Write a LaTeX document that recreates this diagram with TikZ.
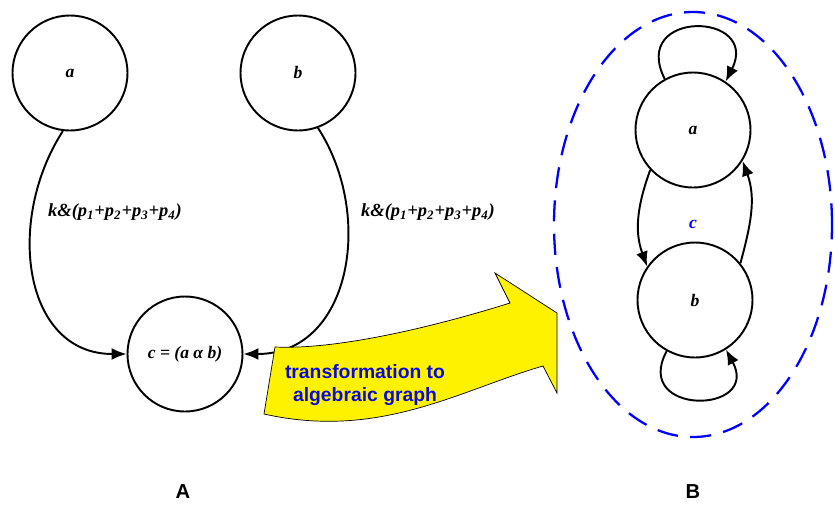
\documentclass[tikz,border=0pt]{standalone}
\usepackage{fontspec}
\setmainfont{Liberation Serif}
\setsansfont{Liberation Sans}
\usetikzlibrary{arrows.meta,positioning}
\definecolor{textblue}{RGB}{10,10,220}

\begin{document}
\begin{tikzpicture}[
      x=0.02cm, y=0.02cm,
      font=\fontsize{10}{12}\selectfont,
      state/.style={draw, line width=1.1pt, circle, inner sep=0pt, minimum size=2.3cm, font=\fontsize{10}{12}\selectfont\bfseries\itshape},
      arrow/.style={-{Latex[length=3mm, width=2.4mm]}, line width=1.1pt},
      weight/.style={font=\fontsize{10.5}{12}\selectfont\bfseries\itshape},
      banner/.style={draw, thin, fill=yellow},
      caption/.style={font=\fontsize{11.5}{13}\selectfont\sffamily\bfseries}
    ]
    \useasboundingbox (0,0) rectangle (835,-504);

    \node[state] (a) at (70,-73) {a};
    \node[state] (b) at (298,-73) {b};
    \node[state] (c) at (185,-354) {c = (a α b)};

    \draw[arrow] (a.263) .. controls +(-58,-90) and +(-103,0) .. (c.west);
    \draw[arrow] (b.-70) .. controls +(57,-88) and +(107,0) .. (c.east);

    \node[weight] (wa) at (115,-212) {k\&(p\textsubscript{1}+p\textsubscript{2}+p\textsubscript{3}+p\textsubscript{4})};
    \node[weight] (wb) at (428,-212) {k\&(p\textsubscript{1}+p\textsubscript{2}+p\textsubscript{3}+p\textsubscript{4})};

    \draw[banner] (275,-347) .. controls (340,-350) and (440,-325) .. (510,-303) -- (495,-273) -- (557,-313)
      -- (557,-393) -- (543,-366) .. controls (460,-390) and (380,-440) .. (264,-414) -- cycle;
    \node[align=center, text=textblue, font=\fontsize{11}{13}\selectfont\sffamily\bfseries] (step) at (365,-385)
      {transformation to\\algebraic graph};

    \draw[blue, line width=1.3pt, dash pattern=on 12pt off 7pt] (693,-224.5) ellipse [x radius=139, y radius=212.5];

    \node[state] (ra) at (693,-130) {a};
    \node[state] (rb) at (695,-300) {b};
    \node[text=blue, font=\fontsize{10}{12}\selectfont\bfseries\itshape] (cl) at (693,-224) {c};

    \draw[arrow] (ra.119) .. controls +(-35,70) and +(35,70) .. (ra.56);
    \draw[arrow] (rb.-119) .. controls +(-35,-65) and +(35,-65) .. (rb.-58);
    \draw[arrow] (ra.-137) to[out=-110, in=110] (rb.145);
    \draw[arrow] (rb.39) to[out=75, in=-70] (ra.-32);

    \node[caption] (capA) at (183,-492) {A};
    \node[caption] (capB) at (693,-492) {B};
  \end{tikzpicture}
\end{document}
